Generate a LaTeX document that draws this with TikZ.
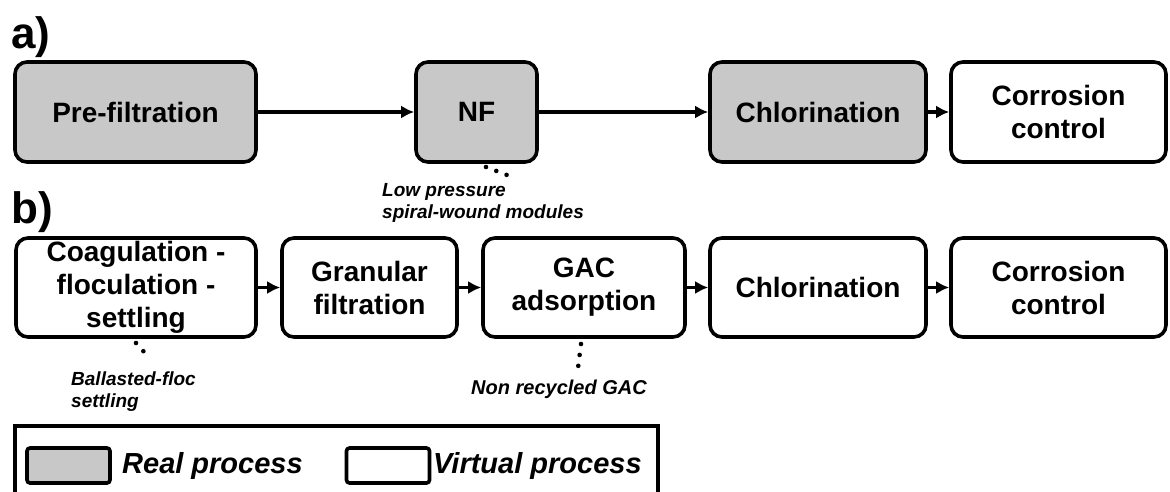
\documentclass[tikz,border=0pt]{standalone}
\usepackage{fontspec}
\setmainfont{Liberation Sans}
\usetikzlibrary{arrows.meta}
\definecolor{realgray}{RGB}{200,200,200}
\tikzset{
  proc/.style={draw=black, line width=3.6pt, rounded corners=12pt, align=center,
    inner sep=0pt, font=\bfseries\fontsize{28}{33}\selectfont},
  real/.style={proc, fill=realgray},
  virt/.style={proc, fill=white},
  arr/.style={line width=3.4pt, -{Latex[length=13pt,width=13pt]}},
  dotcon/.style={line width=4.6pt, dash pattern=on 0pt off 11pt, line cap=round},
  note/.style={font=\bfseries\itshape\fontsize{19}{22}\selectfont, align=left, inner sep=0pt},
  panel/.style={font=\bfseries\fontsize{44}{46}\selectfont, inner sep=0pt, anchor=west},
  legtext/.style={font=\bfseries\itshape\fontsize{29}{31}\selectfont, inner sep=0pt, anchor=west},
  swatch/.style={draw=black, line width=3.6pt, rounded corners=3pt, minimum width=83pt, minimum height=35pt, inner sep=0pt}
}
\begin{document}
\begin{tikzpicture}[x=1pt,y=-1pt]
\useasboundingbox (0,0) rectangle (1170,491);

% panel labels
\node[panel] (la) at (11,37) {a)};
\node[panel] (lb) at (11,212) {b)};

% row a
\node[real, minimum width=241pt, minimum height=100pt] (pre) at (135.5,112) {Pre-filtration};
\node[real, minimum width=121pt, minimum height=100pt] (nf) at (476.5,112) {NF};
\node[real, minimum width=216pt, minimum height=100pt] (chla) at (818,112) {Chlorination};
\node[virt, minimum width=215pt, minimum height=100pt] (cora) at (1058.5,112) {Corrosion\\control};

\draw[arr] (pre) -- (nf);
\draw[arr] (nf) -- (chla);
\draw[arr] (chla) -- (cora);

% row b
\node[virt, minimum width=240pt, minimum height=99pt] (coag) at (136,287.5) {Coagulation -\\floculation -\\settling};
\node[virt, minimum width=175pt, minimum height=99pt] (gran) at (369.5,287.5) {Granular\\filtration};
\node[virt, minimum width=202pt, minimum height=99pt] (gac) at (584,287.5) {GAC\\adsorption};
\node[virt, minimum width=216pt, minimum height=99pt] (chlb) at (818,287.5) {Chlorination};
\node[virt, minimum width=215pt, minimum height=99pt] (corb) at (1058.5,287.5) {Corrosion\\control};

\draw[arr] (coag) -- (gran);
\draw[arr] (gran) -- (gac);
\draw[arr] (gac) -- (chlb);
\draw[arr] (chlb) -- (corb);

% annotations
\node[note, anchor=west] (nfnote) at (382,202.5) {Low pressure\\spiral-wound modules};
\node[note, anchor=west] (coagnote) at (71,392) {Ballasted-floc\\settling};
\node[note, anchor=west, font=\bfseries\itshape\fontsize{20}{22}\selectfont] (gacnote) at (471,389) {Non recycled GAC};

\coordinate (nfd1) at (486,167);
\coordinate (nfd2) at (507,175);
\coordinate (cgd1) at (136,343);
\coordinate (cgd2) at (145,353);
\coordinate (gad1) at (581,344);
\coordinate (gad2) at (578,368);
\draw[dotcon] (nfd1) -- (nfd2);
\draw[dotcon] (cgd1) -- (cgd2);
\draw[dotcon] (gad1) -- (gad2);

% legend
\draw[line width=3.6pt] (15,426) rectangle (658,495);
\node[swatch, fill=realgray] (swr) at (68.5,465.5) {};
\node[legtext] (ltr) at (122,466) {Real process};
\node[swatch, fill=white] (swv) at (388,465.5) {};
\node[legtext] (ltv) at (433,466) {Virtual process};
\end{tikzpicture}
\end{document}
